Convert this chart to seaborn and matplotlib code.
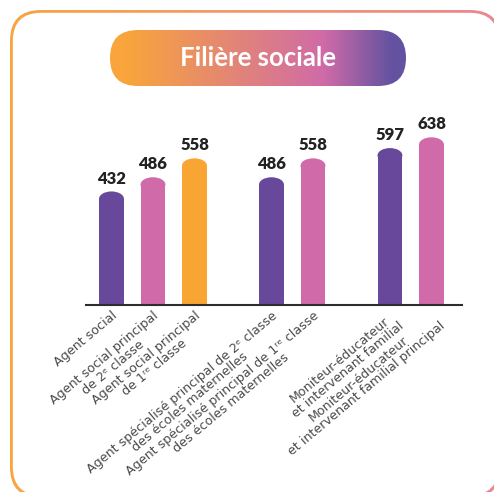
import numpy as np
import pandas as pd
import seaborn as sns
import matplotlib.pyplot as plt
from matplotlib.patches import FancyBboxPatch, Ellipse
from matplotlib.colors import LinearSegmentedColormap

# Données
postes = [
    "Agent social",
    "Agent social principal\nde 2ᵉ classe",
    "Agent social principal\nde 1ʳᵉ classe",
    "Agent spécialisé principal de 2ᵉ classe\ndes écoles maternelles",
    "Agent spécialisé principal de 1ʳᵉ classe\ndes écoles maternelles",
    "Moniteur-éducateur\net intervenant familial",
    "Moniteur-éducateur\net intervenant familial principal",
]
valeurs = [432, 486, 558, 486, 558, 597, 638]
groupes = [3, 2, 2]  # nombre de barres par groupe
titre = "Filière sociale"

VIOLET = "#68489B"
ROSE = "#D06AA8"
ORANGE = "#F9A533"
couleurs = [VIOLET, ROSE, ORANGE, VIOLET, ROSE, VIOLET, ROSE]

# Positions des barres (écart plus grand entre les groupes)
ecart = 1.855
positions = []
x = 0.0
for n in groupes:
    for _ in range(n):
        positions.append(round(x, 3))
        x += 1
    x += ecart - 1

sns.set_style("white")
plt.rcParams['font.family'] = ['Lato', 'DejaVu Sans']

W, H = 494, 492
fig = plt.figure(figsize=(W / 100, H / 100), dpi=100)

# Fond : cadre arrondi avec bordure en dégradé
bg = fig.add_axes([0, 0, 1, 1])
bg.set_xlim(0, W)
bg.set_ylim(H, 0)
bg.axis('off')

cadre_cmap = LinearSegmentedColormap.from_list("cadre", ["#F9A53D", "#F29A6E", "#EC8790"])
grad = np.linspace(0, 1, 256).reshape(1, -1)
img = bg.imshow(grad, cmap=cadre_cmap, extent=(0, W, H, 0), aspect='auto', zorder=0)
exterieur = FancyBboxPatch((10, 10), 491, 488, boxstyle="round,pad=0,rounding_size=31",
                           facecolor='none', edgecolor='none')
bg.add_patch(exterieur)
img.set_clip_path(exterieur)
bg.add_patch(FancyBboxPatch((12.8, 12.8), 485.4, 482.4, boxstyle="round,pad=0,rounding_size=28.5",
                            facecolor='white', edgecolor='none', zorder=1))

# Pastille du titre
pill_cmap = LinearSegmentedColormap.from_list(
    "pill", [(0, "#F9A53B"), (0.05, "#F9A53B"), (0.72, "#D06BA8"), (0.95, "#6452A0"), (1, "#6452A0")])
img2 = bg.imshow(grad, cmap=pill_cmap, extent=(110, 406, 86, 30), aspect='auto', zorder=2)
pill = FancyBboxPatch((110, 30), 296, 56, boxstyle="round,pad=0,rounding_size=28",
                      facecolor='none', edgecolor='none')
bg.add_patch(pill)
img2.set_clip_path(pill)
bg.text(258, 66, titre, color='white', fontsize=18.5, fontweight='bold',
        ha='center', va='baseline', zorder=3)

# Graphique
ax = fig.add_axes([86 / W, (H - 305) / H, (462 - 86) / W, 184 / H])
ax.patch.set_alpha(0)

df = pd.DataFrame({'pos': positions, 'valeur': valeurs, 'poste': postes})
sns.barplot(data=df, x='pos', y='valeur', hue='poste', hue_order=postes, palette=couleurs,
            native_scale=True, width=0.6, dodge=False, saturation=1, legend=False, ax=ax)

# Sommets arrondis
cap = 28
for rect in list(ax.patches):
    h = rect.get_height()
    rect.set_height(h - cap)
    rect.set_edgecolor('none')
    ax.add_patch(Ellipse((rect.get_x() + rect.get_width() / 2, h - cap), rect.get_width(), 2 * cap,
                         facecolor=rect.get_facecolor(), edgecolor='none'))

for p, v in zip(positions, valeurs):
    ax.annotate(str(v), (p, v), xytext=(0, 3.5), textcoords='offset points',
                ha='center', va='bottom', fontsize=12, fontweight='heavy', color='#222222')

ax.set_xlim(-0.614, 8.446)
ax.set_ylim(0, 700)
ax.set_xticks(positions)
ax.set_xticklabels(postes, rotation=40, ha='right', va='top', rotation_mode='anchor',
                   multialignment='center', fontsize=9.1, family='DejaVu Sans',
                   linespacing=0.97, color='#4a4a4a')
ax.tick_params(axis='x', length=0, pad=3)
ax.set_yticks([])
ax.set_xlabel('')
ax.set_ylabel('')
for s in ['top', 'right', 'left']:
    ax.spines[s].set_visible(False)
ax.spines['bottom'].set_color('#2d2d2d')
ax.spines['bottom'].set_linewidth(1.5)

fig.savefig('out.png', dpi=100)
